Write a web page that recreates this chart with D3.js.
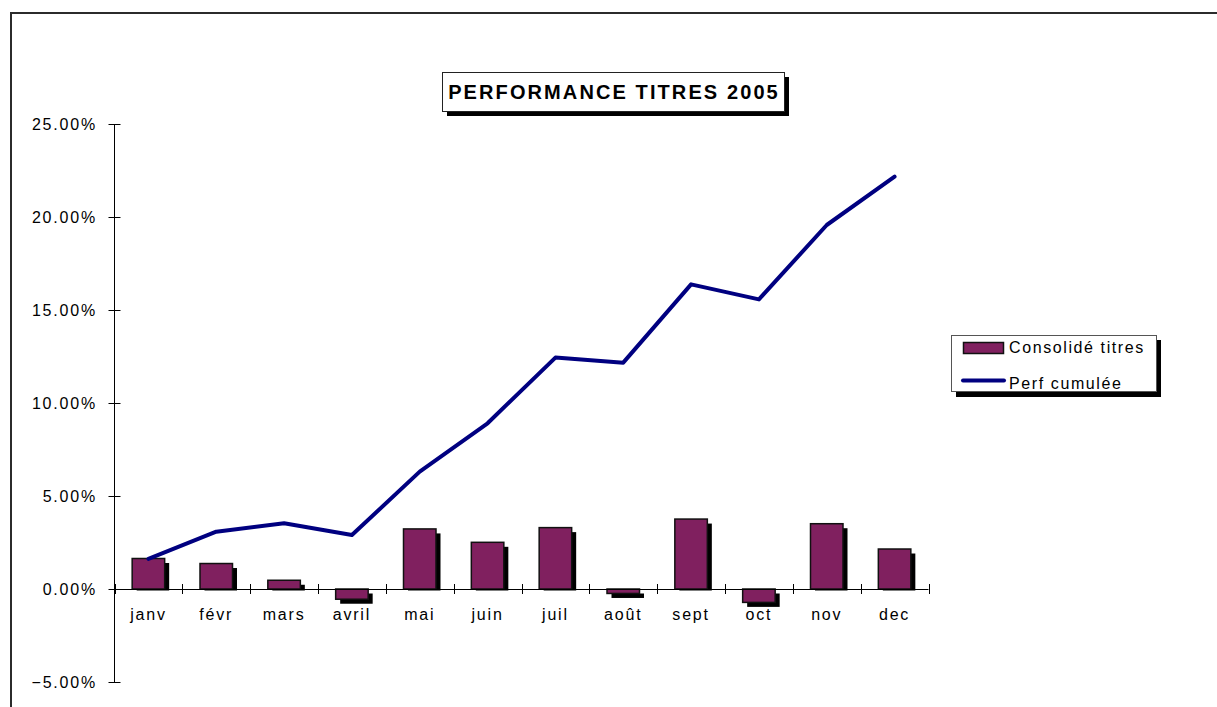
<!DOCTYPE html>
<html>
<head>
<meta charset="utf-8">
<script src="https://cdn.jsdelivr.net/npm/d3@7"></script>
<style>
  body { margin: 0; background: #fff; }
  svg { display: block; }
  text { font-family: "Liberation Sans", Arial, sans-serif; fill: #000; }
</style>
</head>
<body>
<svg id="chart" width="1217" height="707"></svg>
<script>
// values (percent)
const months = ['janv', 'févr', 'mars', 'avril', 'mai', 'juin', 'juil', 'août', 'sept', 'oct', 'nov', 'dec'];
const consolide = [1.64, 1.37, 0.47, -0.55, 3.23, 2.51, 3.30, -0.24, 3.76, -0.72, 3.51, 2.15];
const cumul = [1.62, 3.08, 3.53, 2.90, 6.31, 8.91, 12.44, 12.17, 16.38, 15.57, 19.57, 22.17];
const yTicks = [-5, 0, 5, 10, 15, 20, 25];
const title = 'PERFORMANCE TITRES 2005';
const seriesNames = ['Consolidé titres', 'Perf cumulée'];

const barColor = '#80205F';
const lineColor = '#000080';

const svg = d3.select('#chart');

/** outer chart frame (runs off the right and bottom edges) */
svg.append('rect')
  .attr('x', 11).attr('y', 13)
  .attr('width', 1400).attr('height', 900)
  .attr('fill', 'none')
  .attr('stroke', '#2b2b2b')
  .attr('stroke-width', 2);

const x = d3.scaleBand().domain(months).range([114.5, 928.5]).padding(0);
const y = d3.scaleLinear().domain([-5, 25]).range([682, 124]);

const barW = 32.5;
const sh = 4.5;
const y0 = y(0);

/** y axis */
const gy = svg.append('g');
gy.append('line')
  .attr('x1', 114.5).attr('x2', 114.5)
  .attr('y1', y(25)).attr('y2', y(-5))
  .attr('stroke', '#000');
gy.selectAll('line.tick').data(yTicks).join('line')
  .attr('class', 'tick')
  .attr('x1', 108.5).attr('x2', 120.5)
  .attr('y1', d => Math.round(y(d)) + 0.5).attr('y2', d => Math.round(y(d)) + 0.5)
  .attr('stroke', '#000');
gy.selectAll('text').data(yTicks).join('text')
  .attr('x', 97)
  .attr('y', d => y(d))
  .attr('dy', '0.36em')
  .attr('text-anchor', 'end')
  .style('font-size', '16px')
  .style('letter-spacing', '1.8px')
  .text(d => d3.format('.2f')(d) + '%');

/** bars with drop shadow (shadow stops at the axis for positive bars) */
const bars = svg.append('g');
bars.selectAll('rect.shadow').data(consolide).join('rect')
  .attr('class', 'shadow')
  .attr('x', (d, i) => x(months[i]) + x.bandwidth() / 2 - barW / 2 + sh)
  .attr('y', d => d >= 0 ? y(d) + sh : y0 + sh)
  .attr('width', barW)
  .attr('height', d => d >= 0 ? Math.max(0, y0 + 1.5 - y(d) - sh) : y(d) - y0)
  .attr('fill', '#000');
bars.selectAll('rect.bar').data(consolide).join('rect')
  .attr('class', 'bar')
  .attr('x', (d, i) => x(months[i]) + x.bandwidth() / 2 - barW / 2)
  .attr('y', d => Math.min(y(d), y0))
  .attr('width', barW)
  .attr('height', d => Math.abs(y(d) - y0))
  .attr('fill', barColor)
  .attr('stroke', '#111')
  .attr('stroke-width', 1.5);

/** x axis */
const gx = svg.append('g');
gx.append('line')
  .attr('x1', 114.5).attr('x2', 928.5)
  .attr('y1', Math.round(y0) + 0.5).attr('y2', Math.round(y0) + 0.5)
  .attr('stroke', '#000');
gx.selectAll('line.tick').data(d3.range(months.length + 1)).join('line')
  .attr('class', 'tick')
  .attr('x1', i => Math.round(114.5 + i * x.step()) + 0.5)
  .attr('x2', i => Math.round(114.5 + i * x.step()) + 0.5)
  .attr('y1', y0 - 5).attr('y2', y0 + 5)
  .attr('stroke', '#000');
gx.selectAll('text').data(months).join('text')
  .attr('x', d => x(d) + x.bandwidth() / 2)
  .attr('y', 620)
  .attr('text-anchor', 'middle')
  .style('font-size', '16px')
  .style('letter-spacing', '1.8px')
  .text(d => d);

/** cumulative line */
svg.append('path')
  .datum(cumul)
  .attr('fill', 'none')
  .attr('stroke', lineColor)
  .attr('stroke-width', 4)
  .attr('stroke-linejoin', 'round')
  .attr('stroke-linecap', 'round')
  .attr('d', d3.line()
    .x((d, i) => x(months[i]) + x.bandwidth() / 2)
    .y(d => y(d)));

/** title box */
const tb = svg.append('g');
tb.append('rect')
  .attr('x', 447).attr('y', 77).attr('width', 342).attr('height', 39)
  .attr('fill', '#000');
tb.append('rect')
  .attr('x', 442.5).attr('y', 72.5).attr('width', 342).attr('height', 39)
  .attr('fill', '#fff').attr('stroke', '#222').attr('stroke-width', 1);
tb.append('text')
  .attr('x', 614).attr('y', 99)
  .attr('text-anchor', 'middle')
  .style('font-size', '20px')
  .style('font-weight', 'bold')
  .style('letter-spacing', '2.1px')
  .text(title);

/** legend */
const lg = svg.append('g');
lg.append('rect')
  .attr('x', 956).attr('y', 340).attr('width', 205).attr('height', 57)
  .attr('fill', '#000');
lg.append('rect')
  .attr('x', 951.5).attr('y', 335.5).attr('width', 205).attr('height', 56)
  .attr('fill', '#fff').attr('stroke', '#555').attr('stroke-width', 1);
lg.append('rect')
  .attr('x', 963.5).attr('y', 342.5).attr('width', 40).attr('height', 11)
  .attr('fill', barColor).attr('stroke', '#111').attr('stroke-width', 1.5);
lg.append('line')
  .attr('x1', 963).attr('x2', 1004)
  .attr('y1', 380.5).attr('y2', 380.5)
  .attr('stroke', lineColor).attr('stroke-width', 4).attr('stroke-linecap', 'round');
lg.selectAll('text').data(seriesNames).join('text')
  .attr('x', 1009)
  .attr('y', (d, i) => 352.5 + i * 36)
  .style('font-size', '16px')
  .style('letter-spacing', '1.6px')
  .text(d => d);
</script>
</body>
</html>
